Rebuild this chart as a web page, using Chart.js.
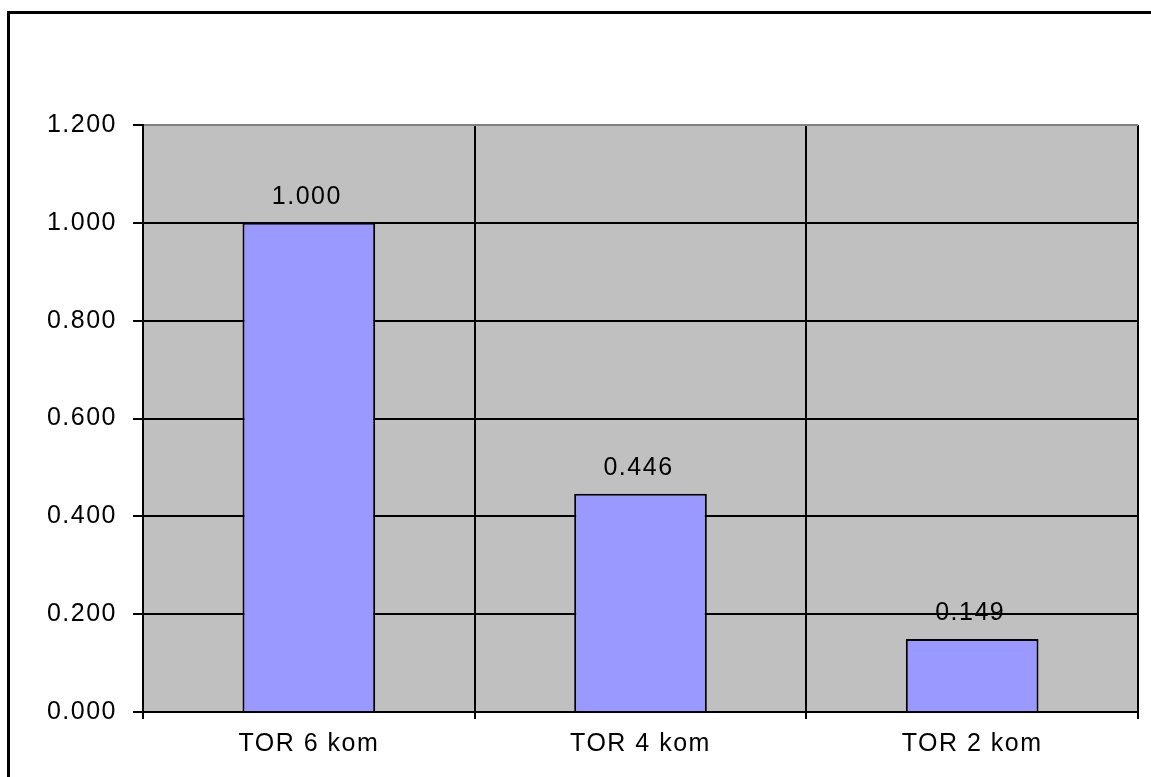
<!DOCTYPE html>
<html>
<head>
<meta charset="utf-8">
<script src="https://cdn.jsdelivr.net/npm/chart.js@4/dist/chart.umd.min.js"></script>
<style>
  body { margin: 0; background: #fff; }
  canvas { display: block; }
</style>
</head>
<body>
<canvas id="chart" width="1151" height="777"></canvas>
<script>
// bar categories and values
var categories = ['TOR 6 kom', 'TOR 4 kom', 'TOR 2 kom'];
var values = [1.000, 0.446, 0.149];
var yTicks = [0, 0.2, 0.4, 0.6, 0.8, 1.0, 1.2];

var labelFont = { family: "'Liberation Sans', Arial, sans-serif", size: 25 };
var spacing = '1.5px';

// white page, black frame on the left/top, grey plot background
var backdrop = {
    id: 'backdrop',
    beforeDraw: function (chart) {
        var ctx = chart.ctx;
        var a = chart.chartArea;
        ctx.save();
        ctx.fillStyle = '#fff';
        ctx.fillRect(0, 0, chart.width, chart.height);
        ctx.fillStyle = '#000';
        ctx.fillRect(7, 11, 3, chart.height - 11);
        ctx.fillRect(7, 11, chart.width - 7, 3);
        ctx.fillStyle = '#C0C0C0';
        ctx.fillRect(a.left, a.top, a.right - a.left, a.bottom - a.top);
        ctx.restore();
        // wide text like the old spreadsheet export
        ctx.letterSpacing = spacing;
    }
};

// value printed above each bar
var valueLabels = {
    id: 'valueLabels',
    afterDatasetsDraw: function (chart) {
        var ctx = chart.ctx;
        var meta = chart.getDatasetMeta(0);
        ctx.save();
        ctx.letterSpacing = spacing;
        ctx.font = labelFont.size + 'px ' + labelFont.family;
        ctx.fillStyle = '#000';
        ctx.textAlign = 'center';
        ctx.textBaseline = 'alphabetic';
        meta.data.forEach(function (bar, i) {
            ctx.fillText(values[i].toFixed(3), bar.x - 2, bar.y - 19);
        });
        ctx.restore();
    }
};

var ctx = document.getElementById('chart').getContext('2d');
var myChart = new Chart(ctx, {
    type: 'bar',
    data: {
        labels: categories,
        datasets: [{
            data: values,
            backgroundColor: '#9999FF',
            borderColor: '#000',
            borderWidth: 2,
            barPercentage: 0.4,
            categoryPercentage: 1.0
        }]
    },
    options: {
        responsive: false,
        animation: false,
        layout: { padding: { left: 0, top: 125, right: 13, bottom: 0 } },
        plugins: {
            legend: { display: false },
            tooltip: { enabled: false }
        },
        scales: {
            x: {
                offset: true,
                afterFit: function (scale) { scale.height = 65; },
                grid: {
                    offset: true,
                    lineWidth: 2,
                    tickLength: 7,
                    tickColor: '#000',
                    color: function (c) { return c.index === categories.length ? '#808080' : '#000'; }
                },
                border: { color: '#000', width: 2 },
                ticks: { color: '#000', font: labelFont, padding: 10 }
            },
            y: {
                min: 0,
                max: 1.2,
                afterFit: function (scale) { scale.width = 143; },
                afterBuildTicks: function (scale) {
                    scale.ticks = yTicks.map(function (v) { return { value: v }; });
                },
                grid: {
                    lineWidth: 2,
                    tickLength: 10,
                    tickColor: '#000',
                    color: function (c) { return c.index === yTicks.length - 1 ? '#808080' : '#000'; }
                },
                border: { color: '#000', width: 2 },
                ticks: {
                    color: '#000',
                    font: labelFont,
                    padding: 16,
                    callback: function (value) { return value.toFixed(3); }
                }
            }
        }
    },
    plugins: [backdrop, valueLabels]
});
</script>
</body>
</html>
